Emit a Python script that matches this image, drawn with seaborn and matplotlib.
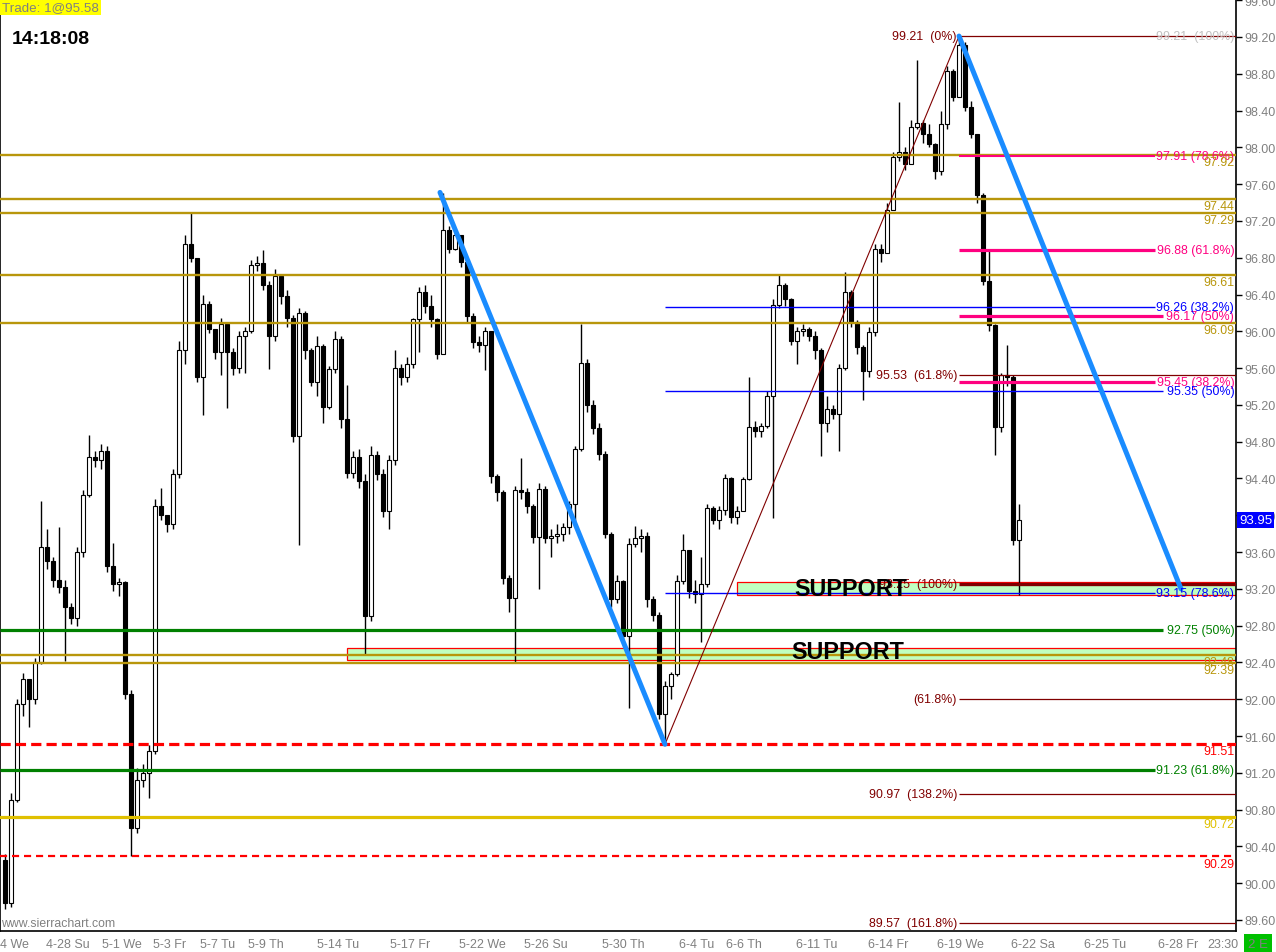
import matplotlib
matplotlib.use("Agg")
import matplotlib.pyplot as plt
import seaborn as sns
import numpy as np
import pandas as pd
from matplotlib.patches import Rectangle

# ---------------- data ----------------
first_open = 90.25
closes = [89.78, 90.90, 91.95, 92.22, 92.00, 92.40, 93.65, 93.50, 93.30, 93.22,
          93.00, 92.88, 93.60, 94.22, 94.63, 94.60, 94.70, 93.45, 93.25, 93.27,
          92.06, 90.60, 91.12, 91.20, 91.44, 94.10, 94.00, 93.90, 94.45, 95.80,
          96.95, 96.80, 95.50, 96.30, 96.02, 95.78, 96.08, 95.78, 95.60, 95.95,
          96.00, 96.72, 96.74, 96.50, 95.95, 96.60, 96.38, 96.15, 94.86, 96.20,
          95.80, 95.45, 95.84, 95.18, 95.59, 95.92, 95.05, 94.46, 94.63, 94.37,
          92.90, 94.65, 94.45, 94.05, 94.60, 95.60, 95.50, 95.65, 96.13, 96.43,
          96.27, 96.13, 95.75, 97.10, 96.90, 97.05, 96.75, 96.17, 95.88, 95.85,
          96.00, 94.43, 94.25, 93.32, 93.10, 94.28, 94.25, 94.10, 93.76, 94.29,
          93.75, 93.78, 93.80, 93.87, 94.12, 94.72, 95.66, 95.20, 94.95, 94.67,
          93.80, 93.09, 93.28, 92.69, 93.69, 93.75, 93.78, 93.09, 92.92, 91.84,
          92.14, 92.27, 93.29, 93.62, 93.18, 93.14, 93.25, 94.08, 93.95, 94.06,
          94.41, 93.98, 94.05, 94.39, 94.96, 94.92, 94.97, 95.30, 96.29, 96.50,
          96.35, 95.89, 96.00, 96.03, 95.95, 95.80, 95.00, 95.16, 95.10, 95.60,
          96.43, 96.10, 95.83, 95.57, 95.99, 96.89, 96.85, 97.32, 97.90, 97.95,
          97.82, 98.22, 98.26, 98.15, 98.04, 97.74, 98.25, 98.83, 98.55, 99.11,
          98.44, 98.14, 97.48, 96.55, 96.07, 94.96, 95.52, 95.50, 93.73, 93.95]
highs = [90.32, 90.98, 92.00, 92.28, 92.22, 92.45, 94.16, 93.85, 93.55, 93.87,
         93.30, 93.05, 93.65, 94.28, 94.87, 94.70, 94.78, 94.75, 93.70, 93.32,
         93.28, 92.10, 91.25, 91.30, 91.50, 94.18, 94.30, 94.00, 94.50, 95.90,
         97.05, 97.29, 96.80, 96.40, 96.33, 96.02, 96.15, 96.10, 95.82, 96.00,
         96.05, 96.78, 96.82, 96.88, 96.55, 96.68, 96.62, 96.45, 96.18, 96.25,
         96.22, 95.82, 95.95, 95.86, 95.62, 96.00, 95.95, 95.42, 94.70, 94.72,
         94.45, 94.75, 94.70, 94.50, 94.65, 95.80, 95.65, 95.72, 96.15, 96.48,
         96.50, 96.40, 96.15, 97.50, 97.15, 97.12, 97.05, 96.76, 96.20, 95.95,
         96.05, 96.00, 94.45, 94.28, 93.35, 94.32, 94.62, 94.30, 94.12, 94.35,
         94.32, 93.85, 93.90, 93.92, 94.15, 94.75, 96.08, 95.70, 95.25, 95.00,
         94.70, 93.82, 93.35, 93.30, 93.75, 93.88, 93.85, 93.82, 93.12, 92.95,
         92.20, 92.30, 93.35, 93.80, 93.62, 93.30, 93.55, 94.12, 94.10, 94.10,
         94.45, 94.42, 94.10, 94.42, 95.50, 95.02, 95.00, 95.35, 96.35, 96.61,
         96.52, 96.36, 96.05, 96.08, 96.05, 96.00, 95.82, 95.30, 95.20, 95.65,
         96.65, 96.45, 96.12, 95.85, 96.05, 96.95, 96.95, 97.40, 97.95, 98.49,
         98.00, 98.30, 98.95, 98.30, 98.25, 98.05, 98.40, 98.88, 98.85, 99.21,
         99.15, 98.50, 98.15, 97.50, 96.90, 96.08, 95.55, 95.85, 95.52, 94.12]
lows = [89.72, 89.74, 90.88, 91.82, 91.70, 91.95, 92.38, 93.42, 93.22, 93.15,
        92.42, 92.82, 92.80, 93.55, 94.20, 94.52, 94.50, 93.38, 93.18, 93.12,
        92.00, 90.29, 90.55, 91.05, 90.93, 91.40, 93.95, 93.82, 93.85, 94.40,
        95.65, 96.75, 95.45, 95.09, 95.98, 95.70, 95.52, 95.17, 95.52, 95.55,
        95.55, 95.98, 96.66, 96.45, 95.59, 95.90, 96.30, 96.05, 94.80, 93.68,
        95.70, 95.40, 95.30, 95.00, 95.15, 95.55, 94.95, 94.40, 94.40, 94.30,
        92.49, 92.85, 94.38, 93.98, 93.85, 94.55, 95.42, 95.45, 95.60, 95.78,
        96.20, 96.05, 95.70, 95.75, 96.85, 96.88, 96.70, 96.10, 95.82, 95.78,
        95.58, 94.35, 94.15, 93.25, 92.95, 92.40, 94.18, 94.02, 93.70, 93.20,
        93.70, 93.55, 93.70, 93.72, 93.80, 93.93, 94.70, 95.12, 94.88, 94.60,
        93.75, 93.00, 93.05, 92.60, 91.90, 93.65, 93.60, 93.00, 92.85, 91.78,
        91.51, 92.00, 92.25, 93.25, 93.10, 93.05, 92.62, 93.22, 93.90, 93.85,
        94.00, 93.92, 93.90, 94.20, 94.38, 94.85, 94.85, 94.95, 93.97, 96.25,
        96.28, 95.85, 95.65, 95.95, 95.90, 95.70, 94.64, 94.90, 95.05, 94.70,
        95.58, 96.05, 95.75, 95.25, 95.50, 95.95, 96.75, 96.85, 97.35, 97.85,
        97.75, 97.85, 98.20, 98.05, 98.00, 97.66, 97.70, 98.20, 98.50, 98.55,
        98.40, 98.10, 97.40, 96.50, 96.00, 94.65, 94.90, 95.40, 93.68, 93.13]

# date axis (positions in bar units)
tick_bars = [0, 10.5, 19.5, 27.5, 35.5, 43.5, 55.5, 67.5, 79.5, 90.2, 103,
             115.2, 123.2, 135.2, 147.2, 159.3, 171.3, 183.3, 195.5, 203]
tick_labels = ["4-24 We", "4-28 Su", "5-1 We", "5-3 Fr", "5-7 Tu", "5-9 Th",
               "5-14 Tu", "5-17 Fr", "5-22 We", "5-26 Su", "5-30 Th", "6-4 Tu",
               "6-6 Th", "6-11 Tu", "6-14 Fr", "6-19 We", "6-22 Sa", "6-25 Tu",
               "6-28 Fr", "23:30"]
price_ticks = [round(89.6 + 0.4 * k, 2) for k in range(26)]

# swing anchors
low_bar, low_price = 110, 91.51
high_bar, high_price = 159, 99.21
trend_a_bars = [72.5, 110]
trend_a_prices = [97.51, 91.51]
trend_b_bars = [159, 196]
trend_b_prices = [99.21, 93.20]

gold_levels = [97.92, 97.44, 97.29, 96.61, 96.09, 92.48, 92.39]
pink_levels = [97.91, 96.88, 96.17, 95.45]
pink_pcts = ["78.6%", "61.8%", "50%", "38.2%"]
blue_levels = [96.26, 95.35, 93.15]
blue_pcts = ["38.2%", "50%", "78.6%"]
fib_levels = [99.21, 95.53, 93.25, 92.00, 90.97, 89.57]
fib_labels = ["99.21  (0%)", "95.53  (61.8%)", "93.25  (100%)", "(61.8%)",
              "90.97  (138.2%)", "89.57  (161.8%)"]
green_levels = [92.75, 91.23]
green_pcts = ["50%", "61.8%"]
red_dash_levels = [91.51, 90.29]
yellow_levels = [90.72]
support_starts = [122, 57]
support_lows = [93.13, 92.43]
support_highs = [93.27, 92.56]
trade_text = "Trade: 1@95.58"
clock_text = "14:18:08"

# ---------------- figure ----------------
sns.set_style("white")
plt.rcParams['font.family'] = ['Liberation Sans', 'DejaVu Sans']

W, H = 1276, 953
fig = plt.figure(figsize=(W / 100, H / 100), dpi=100)
ax = fig.add_axes([0, 21 / H, 1236 / W, 932 / H])


def bx(px):
    return (px - 5) / 6.0


XMAX = bx(1236)
ax.set_xlim(bx(0), XMAX)
ax.set_ylim(89.48, 99.613)

df = pd.DataFrame({"close": closes, "high": highs, "low": lows})
df["open"] = [first_open] + closes[:-1]
df["bar"] = np.arange(len(df))
up = df["close"] >= df["open"]
body_lo = df[["open", "close"]].min(axis=1)
body_h = (df["close"] - df["open"]).abs().clip(lower=0.012)

# support zones
for s, lo, hi in zip(support_starts, support_lows, support_highs):
    ax.add_patch(Rectangle((s, lo), XMAX - s, hi - lo, facecolor="#C0FFC0",
                           edgecolor="#FF0000", linewidth=0.9, zorder=1))

# candles
ax.vlines(df["bar"], df["low"], df["high"], color="black", linewidth=1.0, zorder=2.9)
ax.bar(df["bar"], body_h, bottom=body_lo, width=0.62,
       color=np.where(up, "white", "black"), edgecolor="black",
       linewidth=0.8, zorder=3)

ytr = ax.get_yaxis_transform()
RX = 0.9985
lab_fs = 8.9
GOLD = "#B8960B"

# gold lines
for lv in gold_levels:
    ax.axhline(lv, color=GOLD, linewidth=1.7, zorder=4)
    ax.text(RX, lv - 0.012, f"{lv:.2f}", transform=ytr, ha="right", va="top",
            color=GOLD, fontsize=lab_fs, zorder=7)

# pink retracement lines
pink_ends = [1155, 1155, 1163, 1155]
pink_w = [1.5, 2.3, 2.3, 2.3]
for lv, pc, e, w in zip(pink_levels, pink_pcts, pink_ends, pink_w):
    ax.hlines(lv, high_bar, bx(e), color="#FF0080", linewidth=w, zorder=4)
    ax.text(RX, lv, f"{lv:.2f} ({pc})", transform=ytr, ha="right", va="center",
            color="#FF0080", fontsize=lab_fs, zorder=6)

# blue retracement lines
blue_ends = [1155, 1163, 1155]
for lv, pc, e in zip(blue_levels, blue_pcts, blue_ends):
    ax.hlines(lv, low_bar, bx(e), color="#0000FF", linewidth=1.0, zorder=4)
    ax.text(RX, lv, f"{lv:.2f} ({pc})", transform=ytr, ha="right", va="center",
            color="#0000FF", fontsize=lab_fs, zorder=6)

# dark red fib extension lines
for lv, lab in zip(fib_levels, fib_labels):
    w = 2.4 if lab.startswith("93.25") else 0.9
    ax.hlines(lv, high_bar, XMAX, color="#800000", linewidth=w, zorder=4)
    ax.text(bx(957), lv, lab, ha="right", va="center", color="#800000",
            fontsize=lab_fs, zorder=5)
ax.text(RX, fib_levels[0], f"{fib_levels[0]:.2f}  (100%)", transform=ytr,
        ha="right", va="center", color="#C0C0C0", fontsize=lab_fs, zorder=6)

# green lines
green_ends = [1163, 1155]
for lv, pc, e in zip(green_levels, green_pcts, green_ends):
    ax.hlines(lv, bx(0), bx(e), color="#008000", linewidth=2.3, zorder=4)
    ax.text(RX, lv, f"{lv:.2f} ({pc})", transform=ytr, ha="right", va="center",
            color="#008000", fontsize=lab_fs, zorder=6)

# red dashed lines
for lv, w, ds in zip(red_dash_levels, [2.3, 1.6], [(0, (3.2, 1.6)), (0, (3.2, 2.2))]):
    ax.axhline(lv, color="#FF0000", linewidth=w, linestyle=ds, zorder=4)
    ax.text(RX, lv - 0.012, f"{lv:.2f}", transform=ytr, ha="right", va="top",
            color="#FF0000", fontsize=lab_fs, zorder=6)

# yellow line
for lv in yellow_levels:
    ax.axhline(lv, color="#E0C000", linewidth=2.3, zorder=4)
    ax.text(RX, lv - 0.012, f"{lv:.2f}", transform=ytr, ha="right", va="top",
            color="#E0C000", fontsize=lab_fs, zorder=6)

# swing diagonal and trend lines
sns.lineplot(x=[low_bar, high_bar], y=[low_price, high_price], ax=ax,
             color="#800000", linewidth=0.8, sort=False, estimator=None, zorder=5)
for xs, ys in [(trend_a_bars, trend_a_prices), (trend_b_bars, trend_b_prices)]:
    sns.lineplot(x=xs, y=ys, ax=ax, color="#1A8CFF", linewidth=3.6,
                 sort=False, estimator=None, zorder=5)

# SUPPORT labels
for xs, yv in [(bx(794), 93.20), (bx(791), 92.52)]:
    ax.text(xs, yv, "SUPPORT", fontsize=16.8, fontweight="bold", color="black",
            ha="left", va="center", zorder=8)

# axes styling
ax.set_xticks(tick_bars)
ax.set_xticklabels(tick_labels)
ax.set_yticks(price_ticks)
ax.set_yticklabels([f"{p:.2f}" for p in price_ticks])
ax.yaxis.tick_right()
ax.tick_params(axis="y", direction="out", length=4, width=1, color="black",
               labelcolor="#808080", labelsize=9, pad=2)
ax.tick_params(axis="x", direction="out", length=4, width=1, color="black",
               labelcolor="#808080", labelsize=9, pad=1)
for side in ["left", "bottom", "right"]:
    ax.spines[side].set_visible(True)
    ax.spines[side].set_color("black")
    ax.spines[side].set_linewidth(1.2)
ax.spines["top"].set_visible(False)
ax.set_xlabel("")
ax.set_ylabel("")
ax.grid(False)
if ax.get_legend() is not None:
    ax.get_legend().remove()

# current price marker
ax.text(1.0 + 3 / 1236, closes[-1], f"{closes[-1]:.2f}", transform=ytr,
        ha="left", va="center", color="white", fontsize=9.5, clip_on=False,
        zorder=10, bbox=dict(facecolor="#0000FF", edgecolor="none", pad=1.2))

# header / footer texts
fig.text(2 / W, 1 - 8 / H, trade_text, color="#808080", fontsize=9.6,
         ha="left", va="center",
         bbox=dict(facecolor="#FFFF00", edgecolor="none", pad=1.5))
fig.text(12 / W, 1 - 40 / H, clock_text, color="black", fontsize=14,
         fontweight="bold", ha="left", va="center")
fig.text(1 / W, 1 - 924 / H, "www.sierrachart.com", color="#808080",
         fontsize=8.8, ha="left", va="center")
fig.text(1258 / W, 1 - 945 / H, "2 E", color="#808080", fontsize=9.5,
         ha="center", va="center",
         bbox=dict(facecolor="#00C000", edgecolor="none", pad=3.0))

fig.savefig("out.png", dpi=100)
